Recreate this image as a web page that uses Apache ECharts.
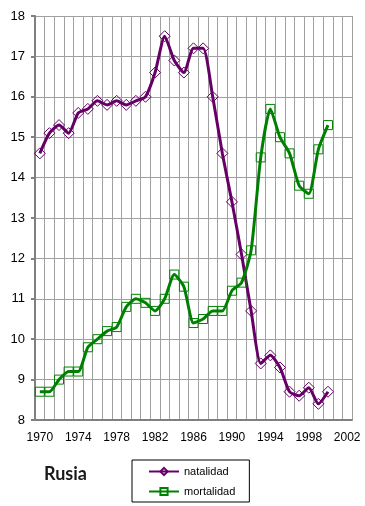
<!DOCTYPE html>
<html>
<head>
<meta charset="utf-8">
<script src="https://cdn.jsdelivr.net/npm/echarts@6/dist/echarts.min.js"></script>
<style>
html,body{margin:0;padding:0;background:#fff;}
#c{width:365px;height:506px;}
</style>
</head>
<body>
<div id="c"></div>
<script>
var years = [];
for (var y = 1970; y <= 2002; y++) years.push(String(y));
var natalidad = [14.6,15.1,15.3,15.1,15.6,15.7,15.9,15.8,15.9,15.8,15.9,16.0,16.6,17.5,16.9,16.6,17.2,17.2,16.0,14.6,13.4,12.1,10.7,9.4,9.6,9.3,8.7,8.6,8.8,8.4,8.7];
var mortalidad = [8.7,8.7,9.0,9.2,9.2,9.8,10.0,10.2,10.3,10.8,11.0,10.9,10.7,11.0,11.6,11.3,10.4,10.5,10.7,10.7,11.2,11.4,12.2,14.5,15.7,15.0,14.6,13.8,13.6,14.7,15.3];
var titleText = 'Rusia';

var chart = echarts.init(document.getElementById('c'), null, {renderer:'canvas'});
chart.setOption({
  backgroundColor:'#fff',
  animation:false,
  title:{text:titleText,left:39,top:460,textStyle:{fontFamily:'Lato',fontWeight:'bold',fontSize:18,color:'#1a1a1a'}},
  legend:{
    orient:'vertical',left:132,top:460,
    padding:[6,14,5,16],itemGap:9,itemWidth:30,itemHeight:9,
    borderColor:'#000',borderWidth:1,
    textStyle:{fontFamily:'Liberation Sans',fontSize:11,color:'#000'},
    data:['natalidad','mortalidad']
  },
  grid:{left:35,right:13,top:16,bottom:86,containLabel:false},
  xAxis:{
    type:'category',data:years,boundaryGap:true,
    axisLine:{lineStyle:{color:'#808080',width:2}},
    axisTick:{interval:0,length:4,lineStyle:{color:'#808080',width:2}},
    axisLabel:{interval:3,color:'#000',fontFamily:'Liberation Sans',fontSize:12,margin:12},
    splitLine:{show:true,interval:0,lineStyle:{color:'#a0a0a0',width:1}}
  },
  yAxis:{
    type:'value',min:8,max:18,interval:1,
    axisLine:{show:true,lineStyle:{color:'#808080',width:2}},
    axisTick:{show:true,length:4,lineStyle:{color:'#808080',width:2}},
    axisLabel:{color:'#000',fontFamily:'Liberation Sans',fontSize:13,margin:10},
    splitLine:{lineStyle:{color:'#a0a0a0',width:1}}
  },
  series:[
    {name:'natalidad',type:'line',data:natalidad,smooth:0.2,
     symbol:'diamond',symbolSize:[11,11],showAllSymbol:true,
     lineStyle:{color:'#660066',width:3},
     itemStyle:{color:'rgba(255,255,255,0)',borderColor:'#660066',borderWidth:1}},
    {name:'mortalidad',type:'line',data:mortalidad,smooth:0.2,
     symbol:'rect',symbolSize:[9,9],showAllSymbol:true,
     lineStyle:{color:'#008000',width:3},
     itemStyle:{color:'rgba(255,255,255,0)',borderColor:'#008000',borderWidth:1}}
  ]
});
</script>
</body>
</html>
